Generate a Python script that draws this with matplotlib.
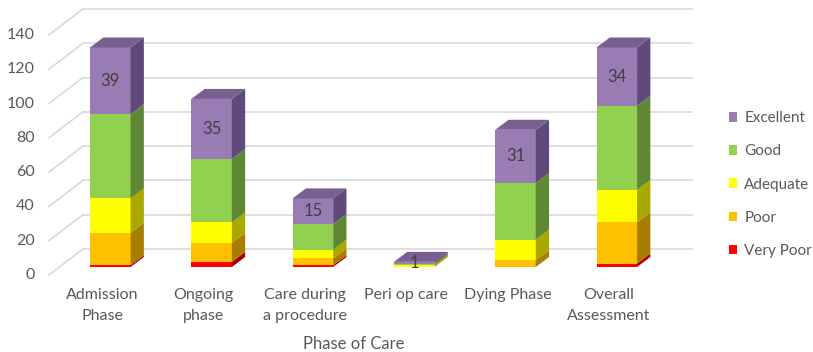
import matplotlib.pyplot as plt
from matplotlib.patches import Polygon, Patch

plt.rcParams['font.family'] = ['Lato', 'DejaVu Sans']

# data
phases = ['Admission\nPhase', 'Ongoing\nphase', 'Care during\na procedure',
          'Peri op care', 'Dying Phase', 'Overall\nAssessment']
very_poor = [1, 3, 1, 0, 0, 2]
poor = [19, 11, 4, 0, 4, 24]
adequate = [20, 12, 5, 1, 12, 19]
good = [49, 37, 15, 1, 33, 49]
excellent = [39, 35, 15, 1, 31, 34]

series = ['Very Poor', 'Poor', 'Adequate', 'Good', 'Excellent']
values = [very_poor, poor, adequate, good, excellent]
front = ['#FF0000', '#FFC000', '#FFFF00', '#92D050', '#9A7CB4']
side = ['#A80000', '#A87E00', '#A8A800', '#5E8833', '#604A7B']
top = ['#C00000', '#BF9000', '#BFBF00', '#70A03C', '#775F8F']
yticks = [0, 20, 40, 60, 80, 100, 120, 140]

# pixel layout -> data units
W, H = 813, 352
cx0, pcat = 110.3, 101.3      # first bar centre, px per category
base, pval = 267, 1.715       # front baseline, px per unit


def dx(px):
    return px / pcat


def dy(px):
    return px / pval


fig = plt.figure(figsize=(W / 100, H / 100), dpi=100)
ax = fig.add_axes([0, 0, 1, 1])
ax.set_xlim(-cx0 / pcat, (W - cx0) / pcat)
ax.set_ylim(-(H - base) / pval, base / pval)
ax.axis('off')

grid = '#D9D9D9'
txt = '#595959'

# back wall gridlines and floor diagonals
wx0, wx1 = dx(83 - cx0), dx(692 - cx0)
lx = dx(49 - cx0)
wall_up = dy(18)
front_down = dy(8)
for v in yticks:
    ax.plot([wx0, wx1], [v + wall_up, v + wall_up], color=grid, lw=1.2, zorder=1)
    ax.plot([lx, wx0], [v - front_down, v + wall_up], color=grid, lw=1.2, zorder=1)
    ax.text(dx(35 - cx0), v - front_down, str(v), ha='right', va='center',
            fontsize=11.5, color=txt)

# 3d-ish stacked bars
bw = 0.4
ddx, ddy = dx(13.3), dy(10)
for i in range(len(phases)):
    b = 0
    for k, vals in enumerate(values):
        h = vals[i]
        if h == 0:
            continue
        r = i + bw / 2
        ax.bar(i, h, bw, bottom=b, color=front[k], zorder=3, linewidth=0)
        ax.add_patch(Polygon([(r, b), (r, b + h), (r + ddx, b + h + ddy), (r + ddx, b + ddy)],
                             closed=True, facecolor=side[k], edgecolor='none', zorder=3))
        b += h
    # top face of the topmost segment
    k_top = max(k for k in range(len(values)) if values[k][i] > 0)
    l, r = i - bw / 2, i + bw / 2
    ax.add_patch(Polygon([(l, b), (r, b), (r + ddx, b + ddy), (l + ddx, b + ddy)],
                         closed=True, facecolor=top[k_top], edgecolor='none', zorder=3))
    # label for Excellent
    e = excellent[i]
    ax.text(i, b - e / 2, str(e), ha='center', va='center', fontsize=12,
            color='#404040', zorder=4)

# category labels
for i, p in enumerate(phases):
    ax.text(i - dx(8), dy(base - 288), p, ha='center', va='top',
            fontsize=11.5, color=txt, linespacing=1.6)

ax.text(dx(354 - cx0), dy(base - 344), 'Phase of Care', ha='center', va='center',
        fontsize=12, color=txt)

handles = [Patch(facecolor=front[k], label=series[k]) for k in range(4, -1, -1)]
leg = ax.legend(handles=handles, loc='center left', bbox_to_anchor=(729 / W, 1 - 184.5 / H),
                bbox_transform=fig.transFigure, frameon=False, fontsize=11,
                handlelength=0.55, handleheight=0.55, handletextpad=0.45,
                labelspacing=1.25, borderpad=0, borderaxespad=0)
for t in leg.get_texts():
    t.set_color(txt)

fig.savefig('out.png', dpi=100)
